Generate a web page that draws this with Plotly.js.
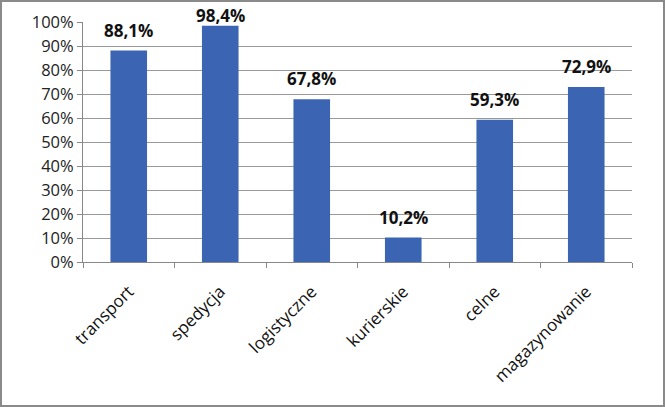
<!DOCTYPE html>
<html><head><meta charset="utf-8">
<script src="https://cdn.plot.ly/plotly-3.0.1.min.js"></script>
<style>html,body{margin:0;padding:0;background:#fff}#c{width:665px;height:407px;box-sizing:border-box;border:2px solid #8a8a8a}</style>
</head><body><div id="c"></div>
<script>
const categories = ["transport","spedycja","logistyczne","kurierskie","celne","magazynowanie"];
const values = [88.1, 98.4, 67.8, 10.2, 59.3, 72.9];
const labels = ["88,1%","98,4%","67,8%","10,2%","59,3%","72,9%"];
const tickVals = [0,10,20,30,40,50,60,70,80,90,100];
const tickText = tickVals.map(v => v + "%");

const trace = {
  type: "bar", x: categories, y: values,
  marker: {color: "#3B65B3", line: {width: 0}},
  hoverinfo: "none"
};
// labels near the top of the axis are pushed down so they stay inside the chart
const annotations = categories.map((c, i) => ({
  x: c, y: values[i], text: "<b>" + labels[i] + "</b>",
  showarrow: false, yanchor: "bottom", yshift: values[i] > 95 ? -3 : 7,
  font: {family: "Open Sans, sans-serif", size: 17, color: "#111"}
}));
const layout = {
  width: 661, height: 403,
  margin: {l: 81, r: 31, t: 20, b: 143},
  paper_bgcolor: "#fff", plot_bgcolor: "#fff",
  bargap: 0.6, showlegend: false,
  font: {family: "Open Sans, sans-serif", color: "#222"},
  annotations: annotations,
  xaxis: {type: "category", tickangle: -45, tickfont: {size: 17, color: "#111"},
    showline: true, linecolor: "#888", linewidth: 1, ticks: "outside", tickson: "boundaries",
    ticklen: 5, tickcolor: "#888", ticklabelstandoff: 12, showgrid: false},
  yaxis: {range: [0, 100], tickvals: tickVals, ticktext: tickText,
    tickfont: {size: 16.5, color: "#222"}, showline: true, linecolor: "#888", linewidth: 1,
    gridcolor: "#999", gridwidth: 1, ticks: "outside", ticklen: 5, tickcolor: "#888",
    zeroline: false, fixedrange: true}
};
Plotly.newPlot("c", [trace], layout, {staticPlot: true});
</script></body></html>
